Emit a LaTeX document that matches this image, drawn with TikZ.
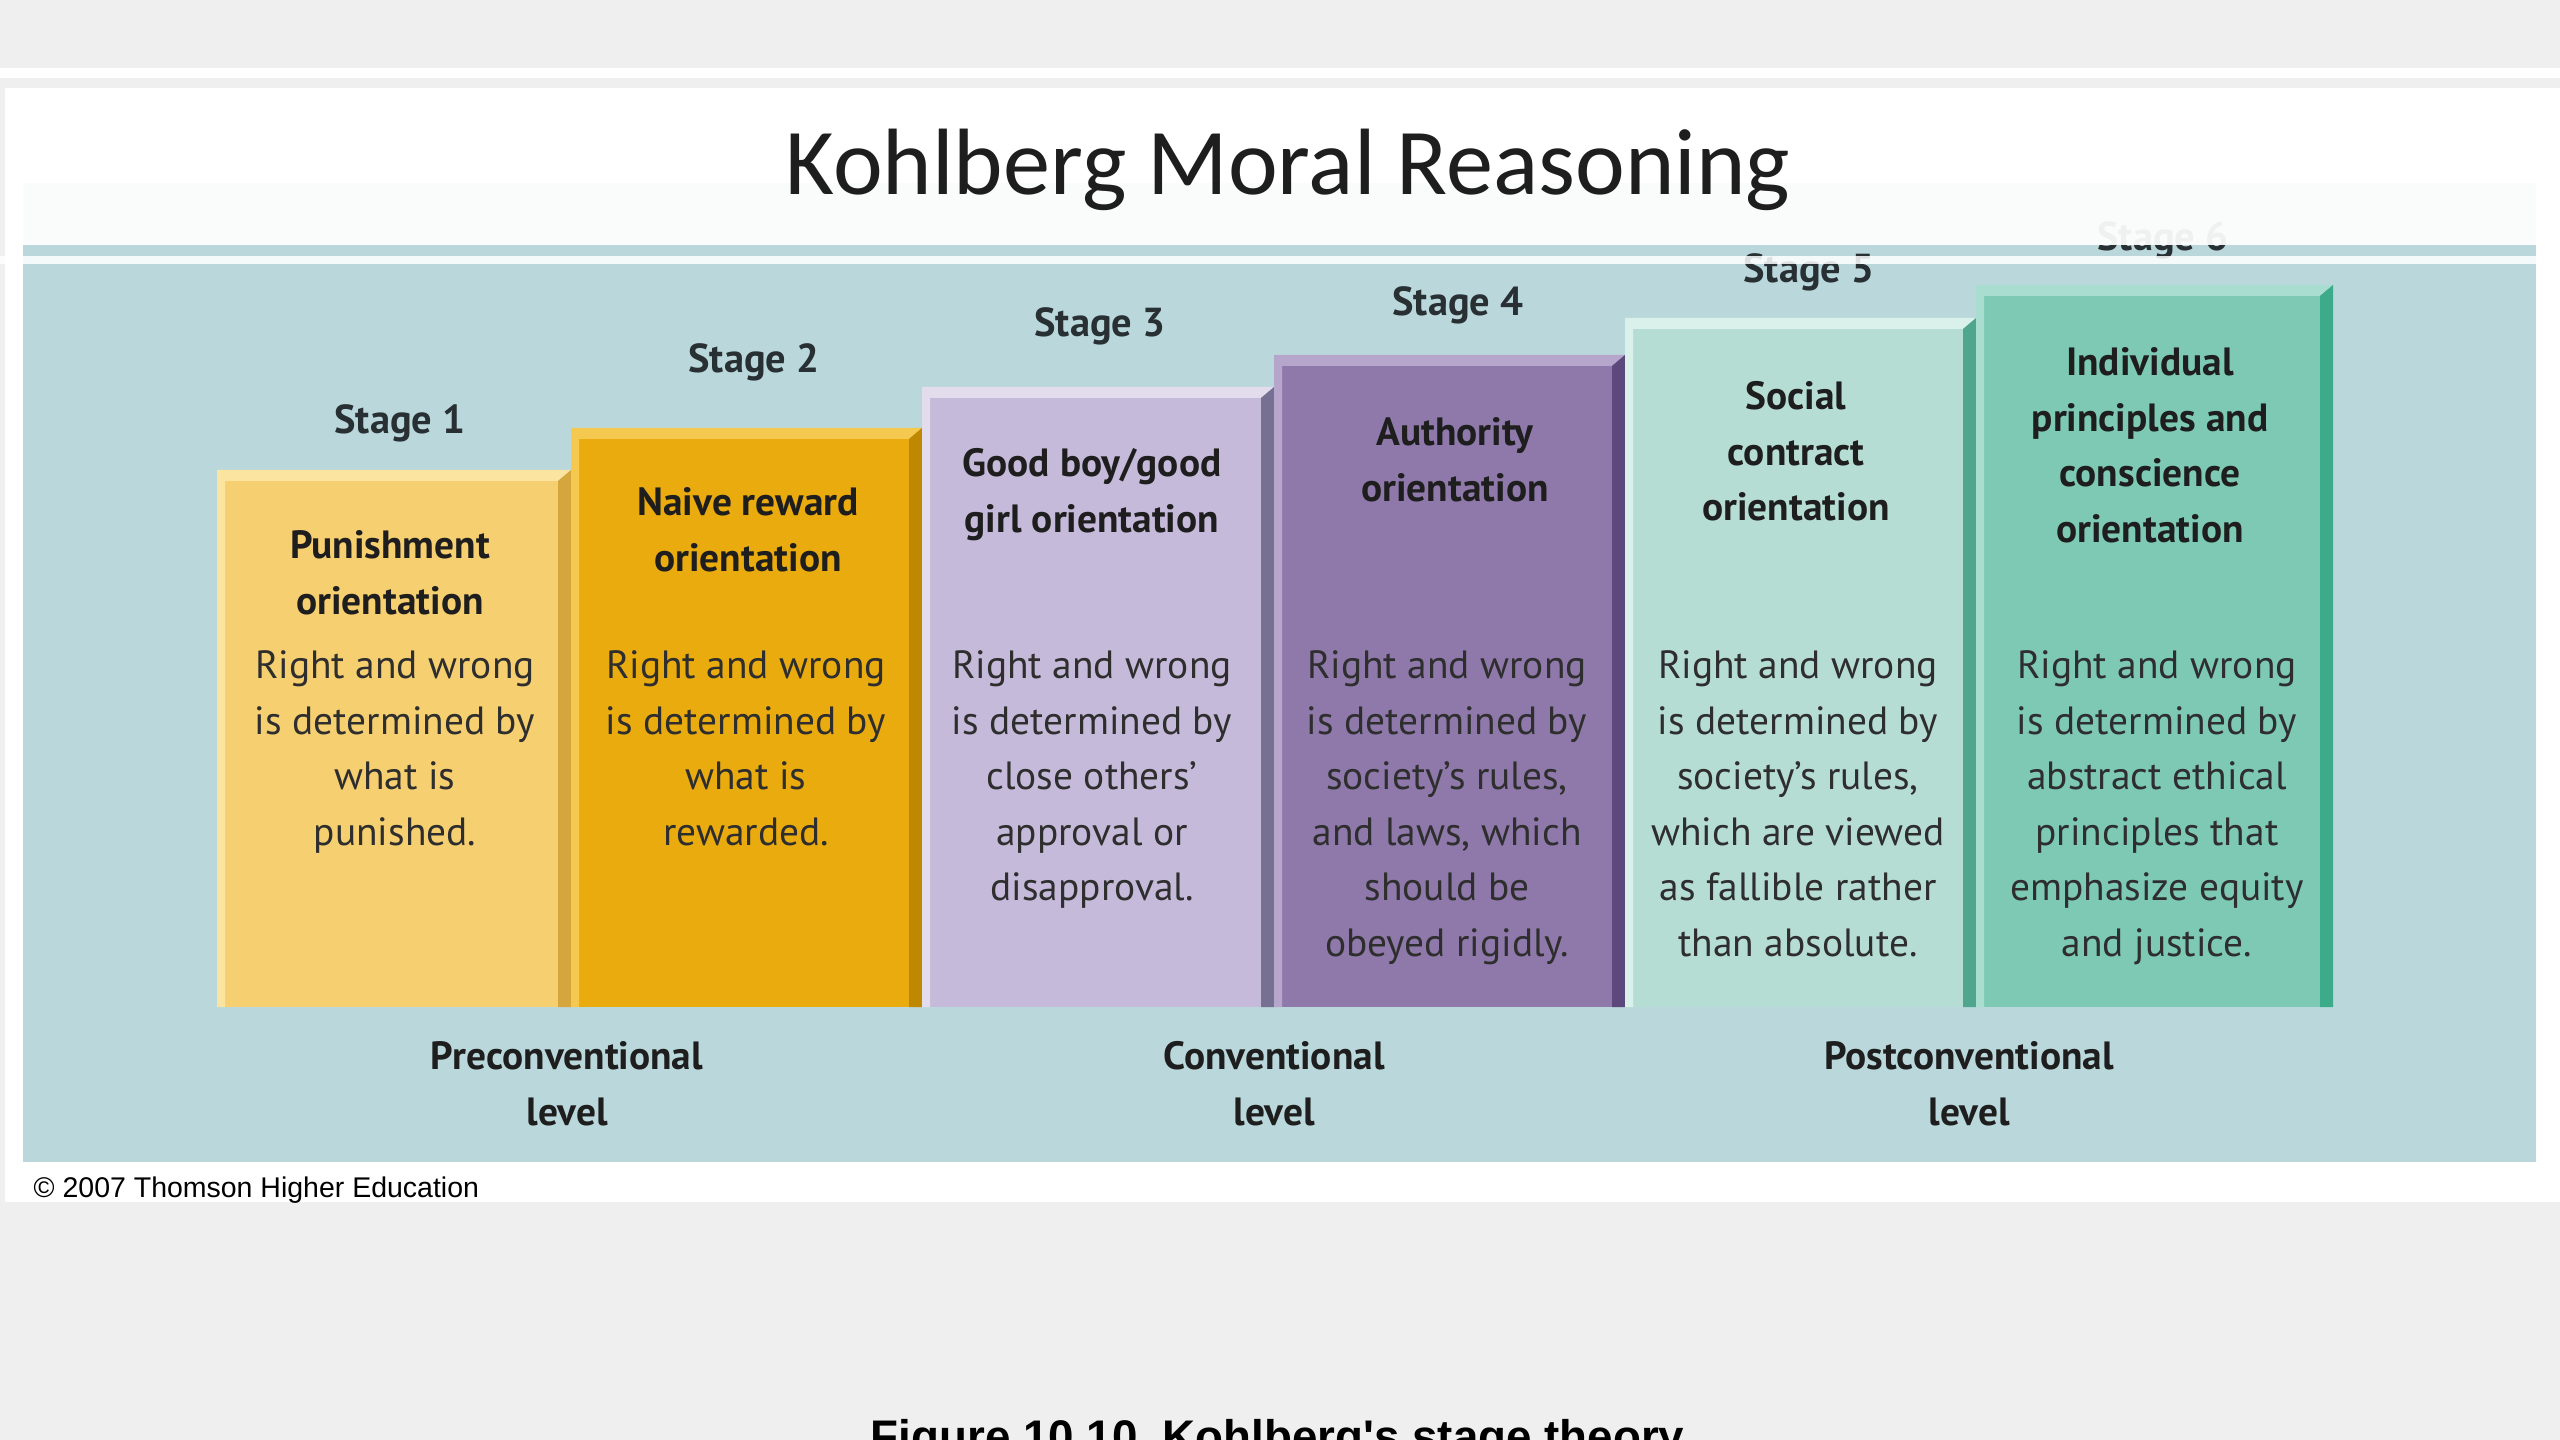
\documentclass[tikz,border=0pt]{standalone}
\usepackage{fontspec}
\setmainfont{PT Sans}
\newfontfamily\titlefamily{Carlito}
\newfontfamily\creditfamily{Liberation Sans}
\usetikzlibrary{positioning}

\definecolor{pagegray}{RGB}{239,239,239}
\definecolor{panelteal}{RGB}{186,216,219}
\definecolor{labink}{RGB}{40,48,52}
\definecolor{headink}{RGB}{30,30,30}
\definecolor{bodyink}{RGB}{46,46,46}
\definecolor{faceA}{RGB}{246,207,112}\definecolor{liteA}{RGB}{251,227,160}\definecolor{darkA}{RGB}{214,166,62}
\definecolor{faceB}{RGB}{233,171,14}\definecolor{liteB}{RGB}{245,200,80}\definecolor{darkB}{RGB}{190,136,0}
\definecolor{faceC}{RGB}{197,186,217}\definecolor{liteC}{RGB}{226,220,236}\definecolor{darkC}{RGB}{118,112,146}
\definecolor{faceD}{RGB}{143,121,170}\definecolor{liteD}{RGB}{183,166,204}\definecolor{darkD}{RGB}{92,72,124}
\definecolor{faceE}{RGB}{182,221,211}\definecolor{liteE}{RGB}{218,240,234}\definecolor{darkE}{RGB}{79,165,142}
\definecolor{faceF}{RGB}{125,201,180}\definecolor{liteF}{RGB}{169,221,207}\definecolor{darkF}{RGB}{61,170,138}

\newcommand{\bodyfnt}{\fontsize{11.2}{15.8}\selectfont}
\newcommand{\headfnt}{\bfseries\fontsize{11.2}{15.8}\selectfont}
\newcommand{\stagefnt}{\bfseries\fontsize{11.5}{14}\selectfont}

% #1 left, #2 right, #3 top, #4 face, #5 light edge, #6 dark side
\newcommand{\stagecol}[6]{%
  \fill[#4] (#1,#3) rectangle (#2,1007);
  \fill[#5] (#1,#3) -- (#2,#3) -- (#2-13,#3+11) -- (#1+8,#3+11) -- (#1+8,1007) -- (#1,1007) -- cycle;
  \fill[#6] (#2,#3) -- (#2,1007) -- (#2-13,1007) -- (#2-13,#3+11) -- cycle;
}

\begin{document}
\begin{tikzpicture}[x=0.01cm, y=-0.01cm,
  stage/.style={font=\stagefnt, text=labink, anchor=base, inner sep=0pt},
  head/.style={font=\headfnt, text=headink, align=center, anchor=north, inner sep=0pt},
  body/.style={font=\bodyfnt, text=bodyink, align=center, anchor=north, inner sep=0pt},
  level/.style={font=\headfnt, text=headink, align=center, anchor=north, inner sep=0pt}
]
\useasboundingbox (0,0) rectangle (2560,1440);
\clip (0,0) rectangle (2560,1440);
\fill[pagegray] (0,0) rectangle (2560,1440);
\fill[white] (0,68) rectangle (2560,78);
\fill[white] (5,88) rectangle (2560,1202);
\fill[panelteal] (23,183) rectangle (2536,1162);

\stagecol{217}{571}{470}{faceA}{liteA}{darkA}
\stagecol{571}{922}{428}{faceB}{liteB}{darkB}
\stagecol{922}{1274}{387}{faceC}{liteC}{darkC}
\stagecol{1274}{1625}{355}{faceD}{liteD}{darkD}
\stagecol{1625}{1976}{318}{faceE}{liteE}{darkE}
\stagecol{1976}{2333}{285}{faceF}{liteF}{darkF}

\node[stage] (s1) at (400,434) {Stage 1};
\node[stage] (s2) at (754,373) {Stage 2};
\node[stage] (s3) at (1100,337) {Stage 3};
\node[stage] (s4) at (1458,316) {Stage 4};
\node[stage] (s5) at (1809,283) {Stage 5};
\node[stage] (s6) at (2163,251) {Stage 6};

\node[head] (h1) at (390,530) {Punishment\\orientation};
\node[head] (h2) at (748,487) {Naive reward\\orientation};
\node[head] (h3) at (1092,448) {Good boy/good\\girl orientation};
\node[head] (h4) at (1455,417) {Authority\\orientation};
\node[head] (h5) at (1796,381) {Social\\contract\\orientation};
\node[head] (h6) at (2150,347) {Individual\\principles and\\conscience\\orientation};

\node[body] (b1) at (395,650) {Right and wrong\\is determined by\\what is\\punished.};
\node[body] (b2) at (746,650) {Right and wrong\\is determined by\\what is\\rewarded.};
\node[body] (b3) at (1092,650) {Right and wrong\\is determined by\\close others'\\approval or\\disapproval.};
\node[body] (b4) at (1447,650) {Right and wrong\\is determined by\\society's rules,\\and laws, which\\should be\\obeyed rigidly.};
\node[body] (b5) at (1798,650) {Right and wrong\\is determined by\\society's rules,\\which are viewed\\as fallible rather\\than absolute.};
\node[body] (b6) at (2157,650) {Right and wrong\\is determined by\\abstract ethical\\principles that\\emphasize equity\\and justice.};

\node[level] (pre) at (567,1041) {Preconventional\\level};
\node[level] (conv) at (1274,1041) {Conventional\\level};
\node[level] (post) at (1969,1041) {Postconventional\\level};

\fill[white, opacity=0.93] (5,88) rectangle (2560,245);
\fill[white, opacity=0.85] (0,256) rectangle (2560,264);

\node[font=\titlefamily\fontsize{26.8}{31}\selectfont, text=headink, anchor=base, inner sep=0pt] (title) at (1288,195) {Kohlberg Moral Reasoning};
\node[font=\creditfamily\fontsize{8.1}{9.5}\selectfont, anchor=base west, inner sep=0pt] (credit) at (33,1197) {\textcopyright\ 2007 Thomson Higher Education};
\node[font=\creditfamily\bfseries\fontsize{13}{15}\selectfont, anchor=base west, inner sep=0pt] (figcap) at (870,1452) {Figure 10.10\ \ Kohlberg's stage theory};
\end{tikzpicture}
\end{document}
